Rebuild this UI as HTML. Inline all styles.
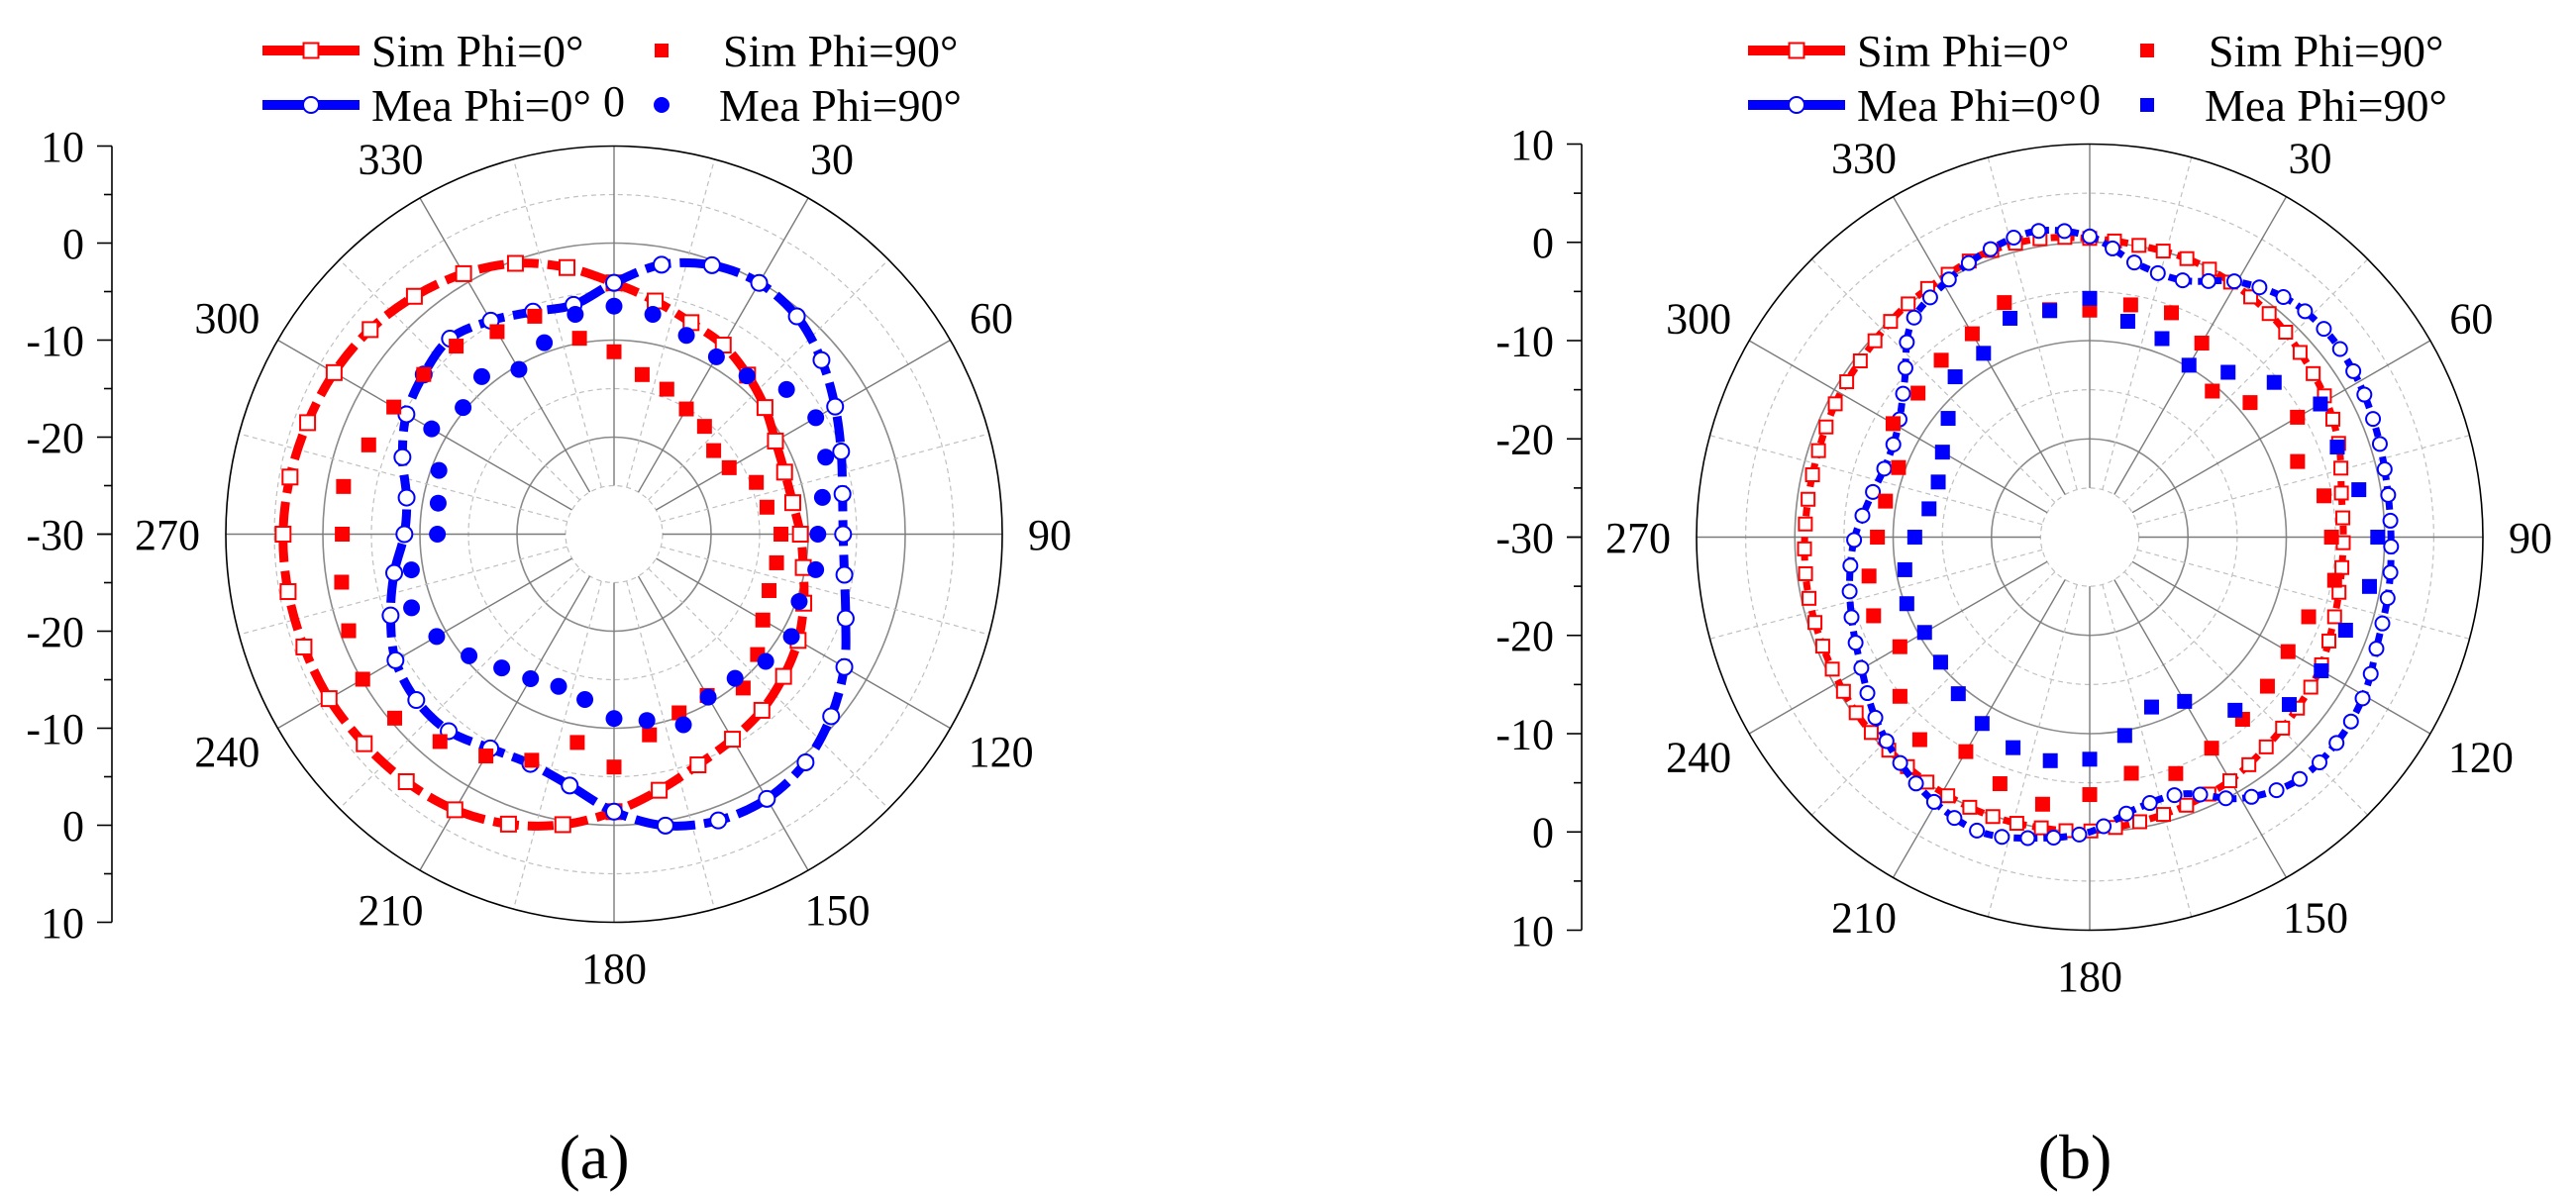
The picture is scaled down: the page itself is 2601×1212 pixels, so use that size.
<!DOCTYPE html>
<html><head><meta charset="utf-8"><style>
html,body{margin:0;padding:0;background:#fff;}
svg{display:block;font-family:"Liberation Serif",serif;}
</style></head><body>
<svg id="fig" width="2601" height="1212" viewBox="0 0 2601 1212" xmlns="http://www.w3.org/2000/svg">
<rect width="2601" height="1212" fill="#fff"/>
<text x="600" y="1190" font-size="64" text-anchor="middle">(a)</text>
<text x="2095" y="1190" font-size="64" text-anchor="middle">(b)</text>
</svg>
<script>
const angles = [0,10,20,30,40,50,60,70,80,90,100,110,120,130,140,150,160,170,180,190,200,210,220,230,240,250,260,270,280,290,300,310,320,330,340,350];
const angleLabels = [0,30,60,90,120,150,180,210,240,270,300,330];
const radialTickLabels = ["10","0","-10","-20","-30","-20","-10","0","10"];
const radialTickValues = [10,0,-10,-20,-30,-20,-10,0,10];
const rMin = -30;
const rMax = 10;
const aSim0 = [-4.1,-5.6,-6.8,-7.5,-8.6,-9.7,-10.8,-11.3,-11.3,-10.8,-10.2,-9.2,-8.1,-7.2,-6.3,-5.6,-4.7,-3.2,-1.4,0.4,1.8,2.8,3.3,3.6,3.9,4.0,4.1,4.1,3.9,3.6,3.3,2.8,2.0,1.0,-0.3,-2.1];
const aMea0 = [-4.1,-1.8,-0.5,-0.1,-0.7,-2.1,-3.7,-5.1,-6.1,-6.4,-5.9,-4.6,-2.6,-0.8,0.7,1.5,1.4,0.5,-1.4,-3.7,-4.8,-4.5,-3.5,-3.4,-4.0,-5.5,-7.0,-8.4,-8.3,-6.8,-5.3,-4.4,-3.7,-4.6,-5.6,-6.0];
const aSim90 = [-11.2,-13.3,-14.1,-15.1,-15.5,-16.6,-16.3,-14.4,-14.0,-12.8,-13.0,-13.0,-12.3,-10.7,-9.3,-10.8,-10.4,-9.0,-6.0,-8.2,-5.2,-3.6,-2.1,-0.5,-0.1,-0.9,-1.5,-2.0,-1.7,-3.1,-3.8,-4.4,-4.7,-5.9,-6.1,-9.5];
const aMea90 = [-6.5,-7.0,-8.2,-8.9,-8.7,-6.8,-6.0,-6.8,-8.2,-9.0,-8.9,-9.7,-8.9,-9.6,-10.6,-10.6,-9.1,-10.5,-11.0,-12.7,-13.3,-12.8,-12.0,-10.5,-8.9,-7.8,-8.8,-11.8,-11.6,-10.8,-8.3,-9.7,-8.8,-10.4,-9.0,-7.0];
const bSim0 = [0.4,0.1,0,-0.4,-0.9,-1.6,-2.2,-3.0,-4.0,-4.2,-4.1,-3.7,-3.0,-2.6,-2.1,-1.4,-1.0,-0.6,-0.1,0,0.1,0,-0.2,-0.2,-0.5,-0.7,-0.8,-1.0,-1.1,-1.0,-0.7,-0.5,0,0.3,0.8,0.8];
const bMea0 = [0.6,-1.8,-2.2,0,1.5,1.9,1.6,1.1,0.7,0.65,0.9,1.2,2.2,2.7,2.5,0.7,-2.2,-2.0,0,1.1,2.0,1.3,0,-1.5,-3.2,-4.3,-5.2,-6.1,-7.3,-8.0,-7.5,-5.4,-1.7,-0.3,0.9,1.6];
const bSim90 = [-6.9,-6.0,-5.7,-7.2,-10.6,-8.7,-5.6,-7.5,-5.8,-5.4,-4.7,-6.3,-6.7,-6.4,-5.8,-5.2,-4.4,-5.6,-3.8,-2.4,-3.3,-4.8,-3.1,-4.8,-7.7,-6.6,-7.2,-8.4,-8.9,-9.3,-6.9,-7.2,-6.5,-6.1,-4.6,-6.5];
const bMea90 = [-5.7,-7.7,-8.5,-9.8,-8.1,-5.5,-2.9,-3.2,-2.2,-0.7,-1.1,-2.3,-2.8,-3.5,-7.0,-10.7,-11.6,-9.5,-7.4,-6.9,-7.2,-8.1,-9.2,-10.2,-10.6,-10.2,-10.9,-12.2,-13.4,-13.6,-12.7,-11.2,-8.7,-8.4,-6.3,-6.6];

const NS = "http://www.w3.org/2000/svg";
const svg = document.getElementById('fig');
function mk(tag, attrs, parent){
  const e = document.createElementNS(NS, tag);
  for (const k in attrs) e.setAttribute(k, attrs[k]);
  (parent||svg).appendChild(e);
  return e;
}
function makeScale(cx, cy, R){
  const r = v => (v - rMin) / (rMax - rMin) * R;
  const pt = (deg, v) => {
    const a = deg * Math.PI / 180, rr = r(v);
    return [cx + rr * Math.sin(a), cy - rr * Math.cos(a)];
  };
  return {r, pt, cx, cy, R};
}
function smoothPath(pts){
  const n = pts.length;
  let d = "M" + pts[0][0].toFixed(1) + "," + pts[0][1].toFixed(1);
  for (let i = 0; i < n; i++){
    const p0 = pts[(i-1+n)%n], p1 = pts[i], p2 = pts[(i+1)%n], p3 = pts[(i+2)%n];
    const c1 = [p1[0]+(p2[0]-p0[0])/6, p1[1]+(p2[1]-p0[1])/6];
    const c2 = [p2[0]-(p3[0]-p1[0])/6, p2[1]-(p3[1]-p1[1])/6];
    d += "C" + c1.map(v=>v.toFixed(1)).join(",") + " " + c2.map(v=>v.toFixed(1)).join(",") + " " + p2.map(v=>v.toFixed(1)).join(",");
  }
  return d + "Z";
}
function marker(g, type, x, y, color, size){
  let e;
  if (type === 'osq' || type === 'fsq'){
    e = mk('rect', {x:x-size/2, y:y-size/2, width:size, height:size,
      fill: type==='osq' ? '#fff' : color, stroke: type==='osq' ? color : 'none', 'stroke-width':2}, g);
  } else {
    e = mk('circle', {cx:x, cy:y, r:size/2,
      fill: type==='oc' ? '#fff' : color, stroke: type==='oc' ? color : 'none', 'stroke-width':2}, g);
  }
  return e;
}

function drawChart(id, cx, cy, R, axisX, series, lineW, dash, dense){
  const s = makeScale(cx, cy, R);
  const g = mk('g', {});
  
  
  // grid circles
  [-25,-20,-15,-10,-5,0,5].forEach(v => {
    const solid = (v % 10 === 0);
    const c = mk('circle', {cx, cy, r:s.r(v), fill:'none',
      stroke: solid ? '#8a8a8a' : '#c0c0c0', 'stroke-width': solid ? 1.6 : 1.2,
      'stroke-dasharray': solid ? 'none' : '5 4'}, g);
    
    
  });
  // spokes
  for (let a = 0; a < 360; a += 15){
    const major = (a % 30 === 0);
    const p1 = s.pt(a, -25), p2 = s.pt(a, rMax);
    const l = mk('line', {x1:p1[0], y1:p1[1], x2:p2[0], y2:p2[1],
      stroke: major ? '#7a7a7a' : '#c0c0c0', 'stroke-width': major ? 1.4 : 1.2,
      'stroke-dasharray': major ? 'none' : '5 4'}, g);
    
    
  }
  const outer = mk('circle', {cx, cy, r:R, fill:'none', stroke:'#000', 'stroke-width':1.6}, g);
  
  
  // angle labels
  angleLabels.forEach(a => {
    const rad = a*Math.PI/180, dx = Math.sin(rad), dy = -Math.cos(rad);
    const w = String(a).length * 22, h = 40;
    const x = cx + (R+26)*dx + dx*w/2, y = cy + (R+26)*dy + dy*h/2;
    const t = mk('text', {x, y, 'font-size':44, 'text-anchor':'middle', dy:'0.35em'}, g);
    t.textContent = String(a);
    
    
  });
  // radial axis at left
  const ax = mk('g', {}, g);
  
  
  mk('line', {x1:axisX, y1:cy - s.r(rMax), x2:axisX, y2:cy + s.r(rMax), stroke:'#000', 'stroke-width':1.6}, ax);
  for (let v = rMax; v >= rMin; v -= 5){
    const major = (v % 10 === 0);
    [cy - s.r(v), cy + s.r(v)].forEach(y => {
      mk('line', {x1:axisX - (major?15:8), y1:y, x2:axisX, y2:y, stroke:'#000', 'stroke-width':1.6}, ax);
    });
  }
  radialTickValues.forEach((v, i) => {
    const y = i < 4 ? cy - s.r(v) : cy + s.r(v);
    const t = mk('text', {x:axisX - 28, y, 'font-size':44, 'text-anchor':'end', dy:'0.35em'}, ax);
    t.textContent = radialTickLabels[i];
    
    
  });
  // series
  series.forEach(se => {
    const sg = mk('g', {}, g);
    
    
    const pts = angles.map((a, i) => s.pt(a, se.data[i]));
    if (se.line){
      const p = mk('path', {d: smoothPath(pts), fill:'none', stroke:se.color, 'stroke-width':lineW, 'stroke-dasharray':dash}, sg);
      
      
      if (dense){
        const L = p.getTotalLength(), n = 72;
        for (let k = 0; k < n; k++){
          const q = p.getPointAtLength(L*k/n);
          const m = marker(sg, se.marker, q.x, q.y, se.color, se.size);
          
          
        }
        return;
      }
    }
    pts.forEach(q => {
      const m = marker(sg, se.marker, q[0], q[1], se.color, se.size);
      
      
    });
  });
  return s;
}

function drawLegend(id, x0, items){
  const g = mk('g', {});
  
  
  items.forEach(it => {
    const eg = mk('g', {}, g);
    
    
    const y = it.y;
    if (it.line){
      mk('line', {x1:x0, y1:y, x2:x0+98, y2:y, stroke:it.color, 'stroke-width':10}, eg);
      marker(eg, it.marker, x0+49, y, it.color, it.size);
    } else {
      marker(eg, it.marker, x0+it.dx, y, it.color, it.size);
    }
    const t = mk('text', {x:x0 + it.tx, y, 'font-size':46, dy:'0.35em'}, eg);
    t.textContent = it.label;
  });
}

drawChart('a', 620, 539.5, 392, 113, [
  {name:'a-sim-phi0', data:aSim0, color:'#f00', line:true, marker:'osq', size:15},
  {name:'a-mea-phi0', data:aMea0, color:'#00f', line:true, marker:'oc', size:16},
  {name:'a-sim-phi90', data:aSim90, color:'#f00', line:false, marker:'fsq', size:15},
  {name:'a-mea-phi90', data:aMea90, color:'#00f', line:false, marker:'fc', size:17}
], 9, '26 9', false);

drawChart('b', 2110, 542.5, 397, 1597, [
  {name:'b-sim-phi0', data:bSim0, color:'#f00', line:true, marker:'osq', size:13},
  {name:'b-mea-phi0', data:bMea0, color:'#00f', line:true, marker:'oc', size:14},
  {name:'b-sim-phi90', data:bSim90, color:'#f00', line:false, marker:'fsq', size:15},
  {name:'b-mea-phi90', data:bMea90, color:'#00f', line:false, marker:'fsq', size:15}
], 7, '9 6', true);

drawLegend('a', 265, [
  {y:51, line:true, color:'#f00', marker:'osq', size:15, tx:110, label:'Sim Phi=0°'},
  {y:106, line:true, color:'#00f', marker:'oc', size:16, tx:110, label:'Mea Phi=0°'},
  {y:51, line:false, color:'#f00', marker:'fsq', size:14, dx:403, tx:465, label:'Sim Phi=90°'},
  {y:106, line:false, color:'#00f', marker:'fc', size:16, dx:403, tx:461, label:'Mea Phi=90°'}
]);
drawLegend('b', 1765, [
  {y:51, line:true, color:'#f00', marker:'osq', size:15, tx:110, label:'Sim Phi=0°'},
  {y:106, line:true, color:'#00f', marker:'oc', size:16, tx:110, label:'Mea Phi=0°'},
  {y:51, line:false, color:'#f00', marker:'fsq', size:14, dx:403, tx:465, label:'Sim Phi=90°'},
  {y:106, line:false, color:'#00f', marker:'fsq', size:14, dx:403, tx:461, label:'Mea Phi=90°'}
]);
</script>
</body></html>
